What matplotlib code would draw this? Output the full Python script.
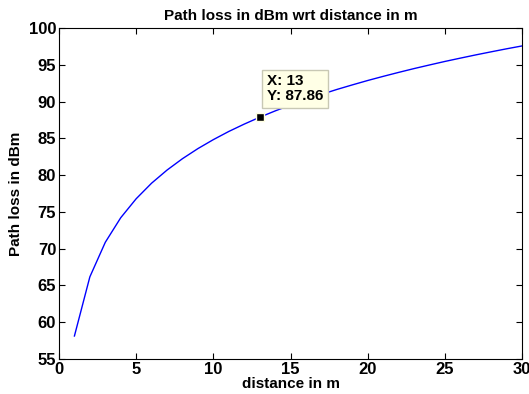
import matplotlib
matplotlib.use("Agg")
import matplotlib.pyplot as plt

# distance (m) and path loss (dBm)
distance = list(range(1, 31))
path_loss = [58.12, 66.16, 70.86, 74.20, 76.78, 78.90, 80.68, 82.23, 83.60, 84.82,
             85.93, 86.93, 87.86, 88.72, 89.52, 90.27, 90.97, 91.64, 92.26, 92.86,
             93.42, 93.96, 94.48, 94.97, 95.45, 95.90, 96.34, 96.76, 97.17, 97.56]
tip_index = 12  # data cursor on d = 13

plt.rcParams['font.family'] = ['Liberation Sans', 'DejaVu Sans']
plt.rcParams['font.weight'] = 'bold'

fig = plt.figure(figsize=(5.29, 3.94), dpi=100)
ax = fig.add_axes([0.1115, 0.089, 0.8755, 0.840])

ax.plot(distance, path_loss, color='#0000ff', lw=1.0)

tx, ty = distance[tip_index], path_loss[tip_index]
ax.plot([tx], [ty], 's', ms=6, color='black', mec='#ffffe0', mew=1.0, zorder=5)
ax.annotate(f"X: {tx}\nY: {ty:.2f}", xy=(tx, ty), xytext=(5, 10),
            textcoords='offset points', fontsize=11, fontweight='bold',
            va='bottom', ha='left', linespacing=1.1,
            bbox=dict(boxstyle='square,pad=0.3', fc='#ffffe6', ec='#c8c8b4', lw=1.0))

ax.set_xlim(0, 30)
ax.set_ylim(55, 100)
ax.set_xticks(range(0, 31, 5))
ax.set_yticks(range(55, 101, 5))
ax.tick_params(direction='in', length=4, width=0.8, labelsize=12,
               top=True, right=True, pad=2)
for lab in ax.get_xticklabels() + ax.get_yticklabels():
    lab.set_fontweight('bold')
for sp in ax.spines.values():
    sp.set_linewidth(0.8)

ax.set_title('Path loss in dBm wrt distance in m', fontsize=11, fontweight='bold', pad=6)
ax.set_xlabel('distance in m', fontsize=11, fontweight='bold', labelpad=0)
ax.set_ylabel('Path loss in dBm', fontsize=11, fontweight='bold', labelpad=4)

fig.savefig('out.png', dpi=100)
